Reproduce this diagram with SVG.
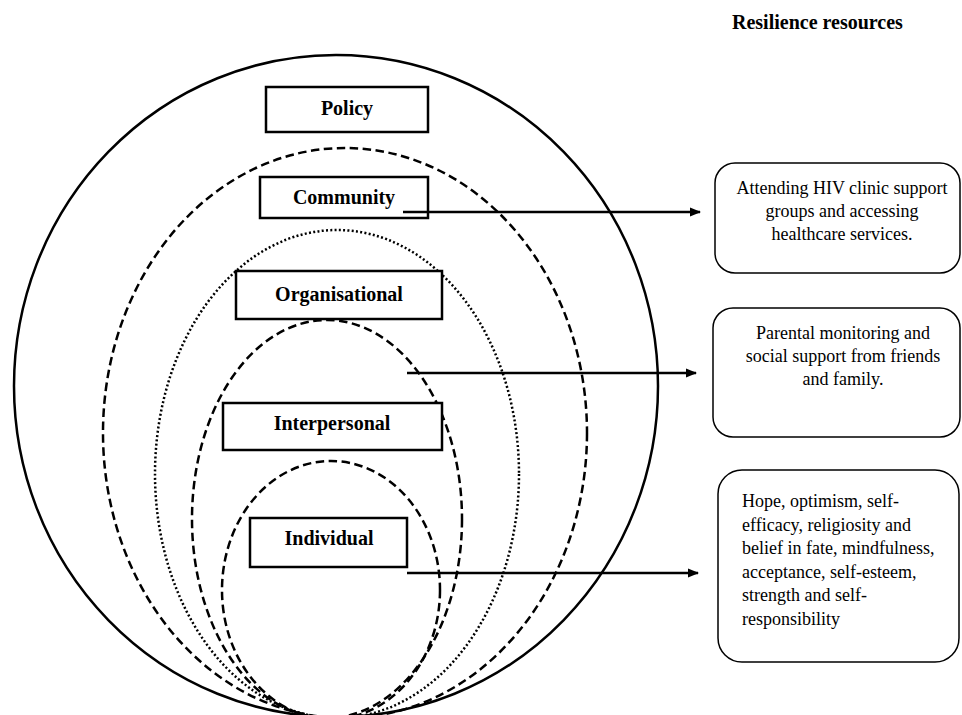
<svg xmlns="http://www.w3.org/2000/svg" width="962" height="715" viewBox="0 0 962 715">
<defs>
<marker id="ah" markerUnits="userSpaceOnUse" markerWidth="11" markerHeight="10" refX="10" refY="5" orient="auto">
<path d="M0,0.5 L11,5 L0,9.5 z" fill="#000"/>
</marker>
</defs>
<style>
.lvl{fill:none;stroke:#000;stroke-width:2.5}
.dash{stroke-dasharray:8.5 4.5}
.dot{stroke-dasharray:2 2.3}
.box{fill:#fff;stroke:#000;stroke-width:2.5}
.lbl{font-family:"Liberation Serif","Times New Roman",serif;font-weight:bold;font-size:20px;text-anchor:middle;fill:#000}
.res{fill:#fff;stroke:#000;stroke-width:1.5}
.rt{font-family:"Liberation Serif","Times New Roman",serif;font-size:18px;fill:#000}
.c{text-anchor:middle}
.conn{fill:none;stroke:#000;stroke-width:2.5;marker-end:url(#ah)}
.title{font-family:"Liberation Serif","Times New Roman",serif;font-weight:bold;font-size:20px;fill:#000}
</style>
<rect width="962" height="715" fill="#fff"/>
<text class="title" x="732" y="29">Resilience resources</text>
<g id="levels">
<ellipse id="policy-ring" class="lvl" cx="336" cy="386" rx="322" ry="331"/>
<ellipse id="community-ring" class="lvl dash" cx="345" cy="433" rx="242" ry="285"/>
<ellipse id="organisational-ring" class="lvl dot" cx="337" cy="474" rx="182" ry="244"/>
<ellipse id="interpersonal-ring" class="lvl dash" cx="327" cy="519" rx="135" ry="199"/>
<ellipse id="individual-ring" class="lvl dash" cx="331" cy="590" rx="109" ry="129"/>
</g>
<g id="policy"><rect class="box" x="266" y="87" width="162" height="45"/><text class="lbl" x="347" y="115">Policy</text></g>
<g id="community"><rect class="box" x="260" y="177" width="168" height="41"/><text class="lbl" x="344" y="204">Community</text></g>
<g id="organisational"><rect class="box" x="236" y="271" width="206" height="48"/><text class="lbl" x="339" y="301">Organisational</text></g>
<g id="interpersonal"><rect class="box" x="223" y="403" width="219" height="47"/><text class="lbl" x="332" y="430">Interpersonal</text></g>
<g id="individual"><rect class="box" x="250" y="518" width="157" height="49"/><text class="lbl" x="329" y="545">Individual</text></g>
<g id="connectors">
<path class="conn" d="M403,212 H700"/>
<path class="conn" d="M407,373 H696"/>
<path class="conn" d="M407,573 H698"/>
</g>
<g id="res-community"><rect class="res" x="715" y="163" width="245" height="110" rx="20"/>
<text class="rt c" x="842" y="194">Attending HIV clinic support</text>
<text class="rt c" x="842" y="217">groups and accessing</text>
<text class="rt c" x="842" y="240">healthcare services.</text></g>
<g id="res-interpersonal"><rect class="res" x="713" y="308" width="247" height="129" rx="20"/>
<text class="rt c" x="843" y="339">Parental monitoring and</text>
<text class="rt c" x="843" y="362">social support from friends</text>
<text class="rt c" x="843" y="385">and family.</text></g>
<g id="res-individual"><rect class="res" x="718" y="470" width="241" height="192" rx="24"/>
<text class="rt" x="742" y="507">Hope, optimism, self-</text>
<text class="rt" x="742" y="530.5">efficacy, religiosity and</text>
<text class="rt" x="742" y="554">belief in fate, mindfulness,</text>
<text class="rt" x="742" y="577.5">acceptance, self-esteem,</text>
<text class="rt" x="742" y="601">strength and self-</text>
<text class="rt" x="742" y="624.5">responsibility</text></g>
</svg>
